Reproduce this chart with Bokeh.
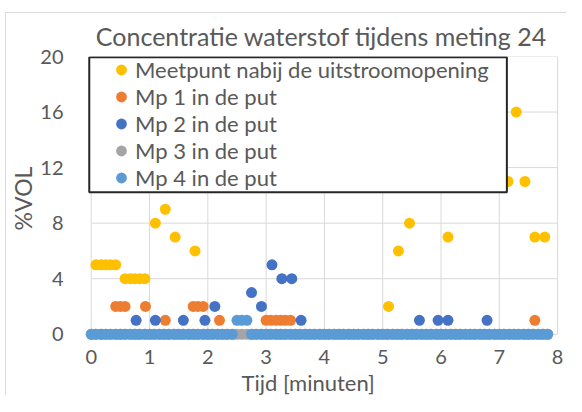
from bokeh.plotting import figure
from bokeh.models import Range1d, FixedTicker, Legend, LegendItem, BoxAnnotation, Title
from bokeh.embed import file_html
from bokeh.resources import INLINE

# ---- data (time in minutes, concentration in %VOL) ----
meetpunt_t = [0.08, 0.17, 0.25, 0.33, 0.42, 0.58, 0.67, 0.75, 0.83, 0.92,
              1.1, 1.27, 1.44, 1.78, 5.1, 5.27, 5.46, 6.12, 7.15, 7.29, 7.44, 7.61, 7.78]
meetpunt_v = [5, 5, 5, 5, 5, 4, 4, 4, 4, 4,
              8, 9, 7, 6, 2, 6, 8, 7, 11, 16, 11, 7, 7]

mp1_t = [0.42, 0.5, 0.58, 0.93, 1.27, 1.75, 1.83, 1.92, 2.2,
         3.0, 3.08, 3.17, 3.25, 3.33, 3.42, 7.61]
mp1_v = [2, 2, 2, 2, 1, 2, 2, 2, 1,
         1, 1, 1, 1, 1, 1, 1]

mp2_t = [0.77, 1.1, 1.58, 1.95, 2.12, 2.75, 2.92, 3.1, 3.27, 3.44, 3.6,
         5.63, 5.95, 6.12, 6.79]
mp2_v = [1, 1, 1, 1, 2, 3, 2, 5, 4, 4, 1,
         1, 1, 1, 1]

put_t = [0.0, 0.08, 0.17, 0.25, 0.33, 0.42, 0.5, 0.58, 0.67, 0.75, 0.83, 0.92,
         1.0, 1.08, 1.17, 1.25, 1.33, 1.42, 1.5, 1.58, 1.67, 1.75, 1.83, 1.92,
         2.0, 2.08, 2.17, 2.25, 2.33, 2.42, 2.5, 2.58, 2.67, 2.75, 2.83, 2.92,
         3.0, 3.08, 3.17, 3.25, 3.33, 3.42, 3.5, 3.58, 3.67, 3.75, 3.83, 3.92,
         4.0, 4.08, 4.17, 4.25, 4.33, 4.42, 4.5, 4.58, 4.67, 4.75, 4.83, 4.92,
         5.0, 5.08, 5.17, 5.25, 5.33, 5.42, 5.5, 5.58, 5.67, 5.75, 5.83, 5.92,
         6.0, 6.08, 6.17, 6.25, 6.33, 6.42, 6.5, 6.58, 6.67, 6.75, 6.83, 6.92,
         7.0, 7.08, 7.17, 7.25, 7.33, 7.42, 7.5, 7.58, 7.67, 7.75, 7.83]
mp3_v = [0, 0, 0, 0, 0, 0, 0, 0, 0, 0, 0, 0,
         0, 0, 0, 0, 0, 0, 0, 0, 0, 0, 0, 0,
         0, 0, 0, 0, 0, 0, 0, 0, 0, 0, 0, 0,
         0, 0, 0, 0, 0, 0, 0, 0, 0, 0, 0, 0,
         0, 0, 0, 0, 0, 0, 0, 0, 0, 0, 0, 0,
         0, 0, 0, 0, 0, 0, 0, 0, 0, 0, 0, 0,
         0, 0, 0, 0, 0, 0, 0, 0, 0, 0, 0, 0,
         0, 0, 0, 0, 0, 0, 0, 0, 0, 0, 0]
mp4_v = [0, 0, 0, 0, 0, 0, 0, 0, 0, 0, 0, 0,
         0, 0, 0, 0, 0, 0, 0, 0, 0, 0, 0, 0,
         0, 0, 0, 0, 0, 0, 1, 1, 1, 0, 0, 0,
         0, 0, 0, 0, 0, 0, 0, 0, 0, 0, 0, 0,
         0, 0, 0, 0, 0, 0, 0, 0, 0, 0, 0, 0,
         0, 0, 0, 0, 0, 0, 0, 0, 0, 0, 0, 0,
         0, 0, 0, 0, 0, 0, 0, 0, 0, 0, 0, 0,
         0, 0, 0, 0, 0, 0, 0, 0, 0, 0, 0]

series_names = ["Meetpunt nabij de uitstroomopening", "Mp 1 in de put",
                "Mp 2 in de put", "Mp 3 in de put", "Mp 4 in de put"]
series_colors = ["#FFC000", "#ED7D31", "#4472C4", "#A5A5A5", "#5B9BD5"]

x_ticks = [0, 1, 2, 3, 4, 5, 6, 7, 8]
y_ticks = [0, 4, 8, 12, 16, 20]

FONT = "Lato"
TXT = "#595959"
GRID = "#D9D9D9"

p = figure(frame_width=478, frame_height=284,
           x_range=Range1d(-0.15, 8.05), y_range=Range1d(-0.45, 20),
           output_backend="svg", toolbar_location=None,
           min_border_left=82, min_border_right=6,
           min_border_top=56, min_border_bottom=4)

# light chart-area border (top and left edges) as in the spreadsheet chart
p.border_fill_alpha = 0.0
p.styles = {
    "background-color": "white",
    "background-image": "linear-gradient(#D9D9D9, #D9D9D9), linear-gradient(#D9D9D9, #D9D9D9)",
    "background-size": "100% 1px, 1px 100%",
    "background-position": "5px 12px, 5px 12px",
    "background-repeat": "no-repeat",
}

p.title.text = "Concentratie waterstof tijdens meting 24"
p.title.align = "center"
p.title.text_font = FONT
p.title.text_font_size = "25px"
p.title.text_font_style = "normal"
p.title.text_color = TXT
p.title.standoff = 11

p.outline_line_color = None
p.xgrid.visible = False
p.ygrid.visible = False

# gridlines restricted to the plot area (0..8, 0..20)
p.segment(x0=[x_ticks[0]] * len(y_ticks), x1=[x_ticks[-1]] * len(y_ticks),
          y0=y_ticks, y1=y_ticks, line_color=GRID, line_width=1)
p.segment(x0=x_ticks, x1=x_ticks, y0=[y_ticks[0]] * len(x_ticks),
          y1=[y_ticks[-1]] * len(x_ticks), line_color=GRID, line_width=1)

for ax in (p.xaxis[0], p.yaxis[0]):
    ax.axis_line_color = None
    ax.major_tick_line_color = None
    ax.minor_tick_line_color = None
    ax.major_label_text_font = FONT
    ax.major_label_text_font_size = "20px"
    ax.major_label_text_color = TXT
    ax.axis_label_text_font = FONT
    ax.axis_label_text_font_size = "23px"
    ax.axis_label_text_font_style = "normal"
    ax.axis_label_text_color = TXT

p.xaxis.ticker = FixedTicker(ticks=x_ticks)
p.yaxis.ticker = FixedTicker(ticks=y_ticks)
p.yaxis.axis_label = "%VOL"
p.xaxis.major_label_standoff = 3
p.yaxis.major_label_standoff = 13
p.yaxis.axis_label_standoff = 0

# x-axis title, placed slightly left of centre as in the original
x_title = Title(text="Tijd [minuten]", align="left", offset=159, standoff=0,
                text_font=FONT, text_font_size="22px", text_font_style="normal",
                text_color=TXT)
p.add_layout(x_title, "below")

data = [(meetpunt_t, meetpunt_v), (mp1_t, mp1_v), (mp2_t, mp2_v),
        (put_t, mp3_v), (put_t, mp4_v)]
renderers = []
for (xs, ys), col in zip(data, series_colors):
    r = p.scatter(x=xs, y=ys, size=11, fill_color=col, line_color=col, line_width=0)
    renderers.append(r)

# legend frame (white box with dark border) drawn over the markers
legend_box = BoxAnnotation(left=-0.034, right=7.13, top=19.95, bottom=10.23,
                           fill_color="white", fill_alpha=1.0,
                           line_color="#262626", line_width=2, line_alpha=1.0)
p.add_layout(legend_box)

legend = Legend(
    items=[LegendItem(label=n, renderers=[r]) for n, r in zip(series_names, renderers)],
    location=(25, 149), orientation="vertical",
    padding=0, margin=0, spacing=0,
    glyph_width=28, glyph_height=27, label_height=27,
    label_standoff=0,
    border_line_color=None, background_fill_alpha=0.0,
    label_text_font=FONT, label_text_font_size="22px", label_text_color=TXT,
)
p.add_layout(legend)

open("out.html", "w").write(file_html(p, INLINE))
